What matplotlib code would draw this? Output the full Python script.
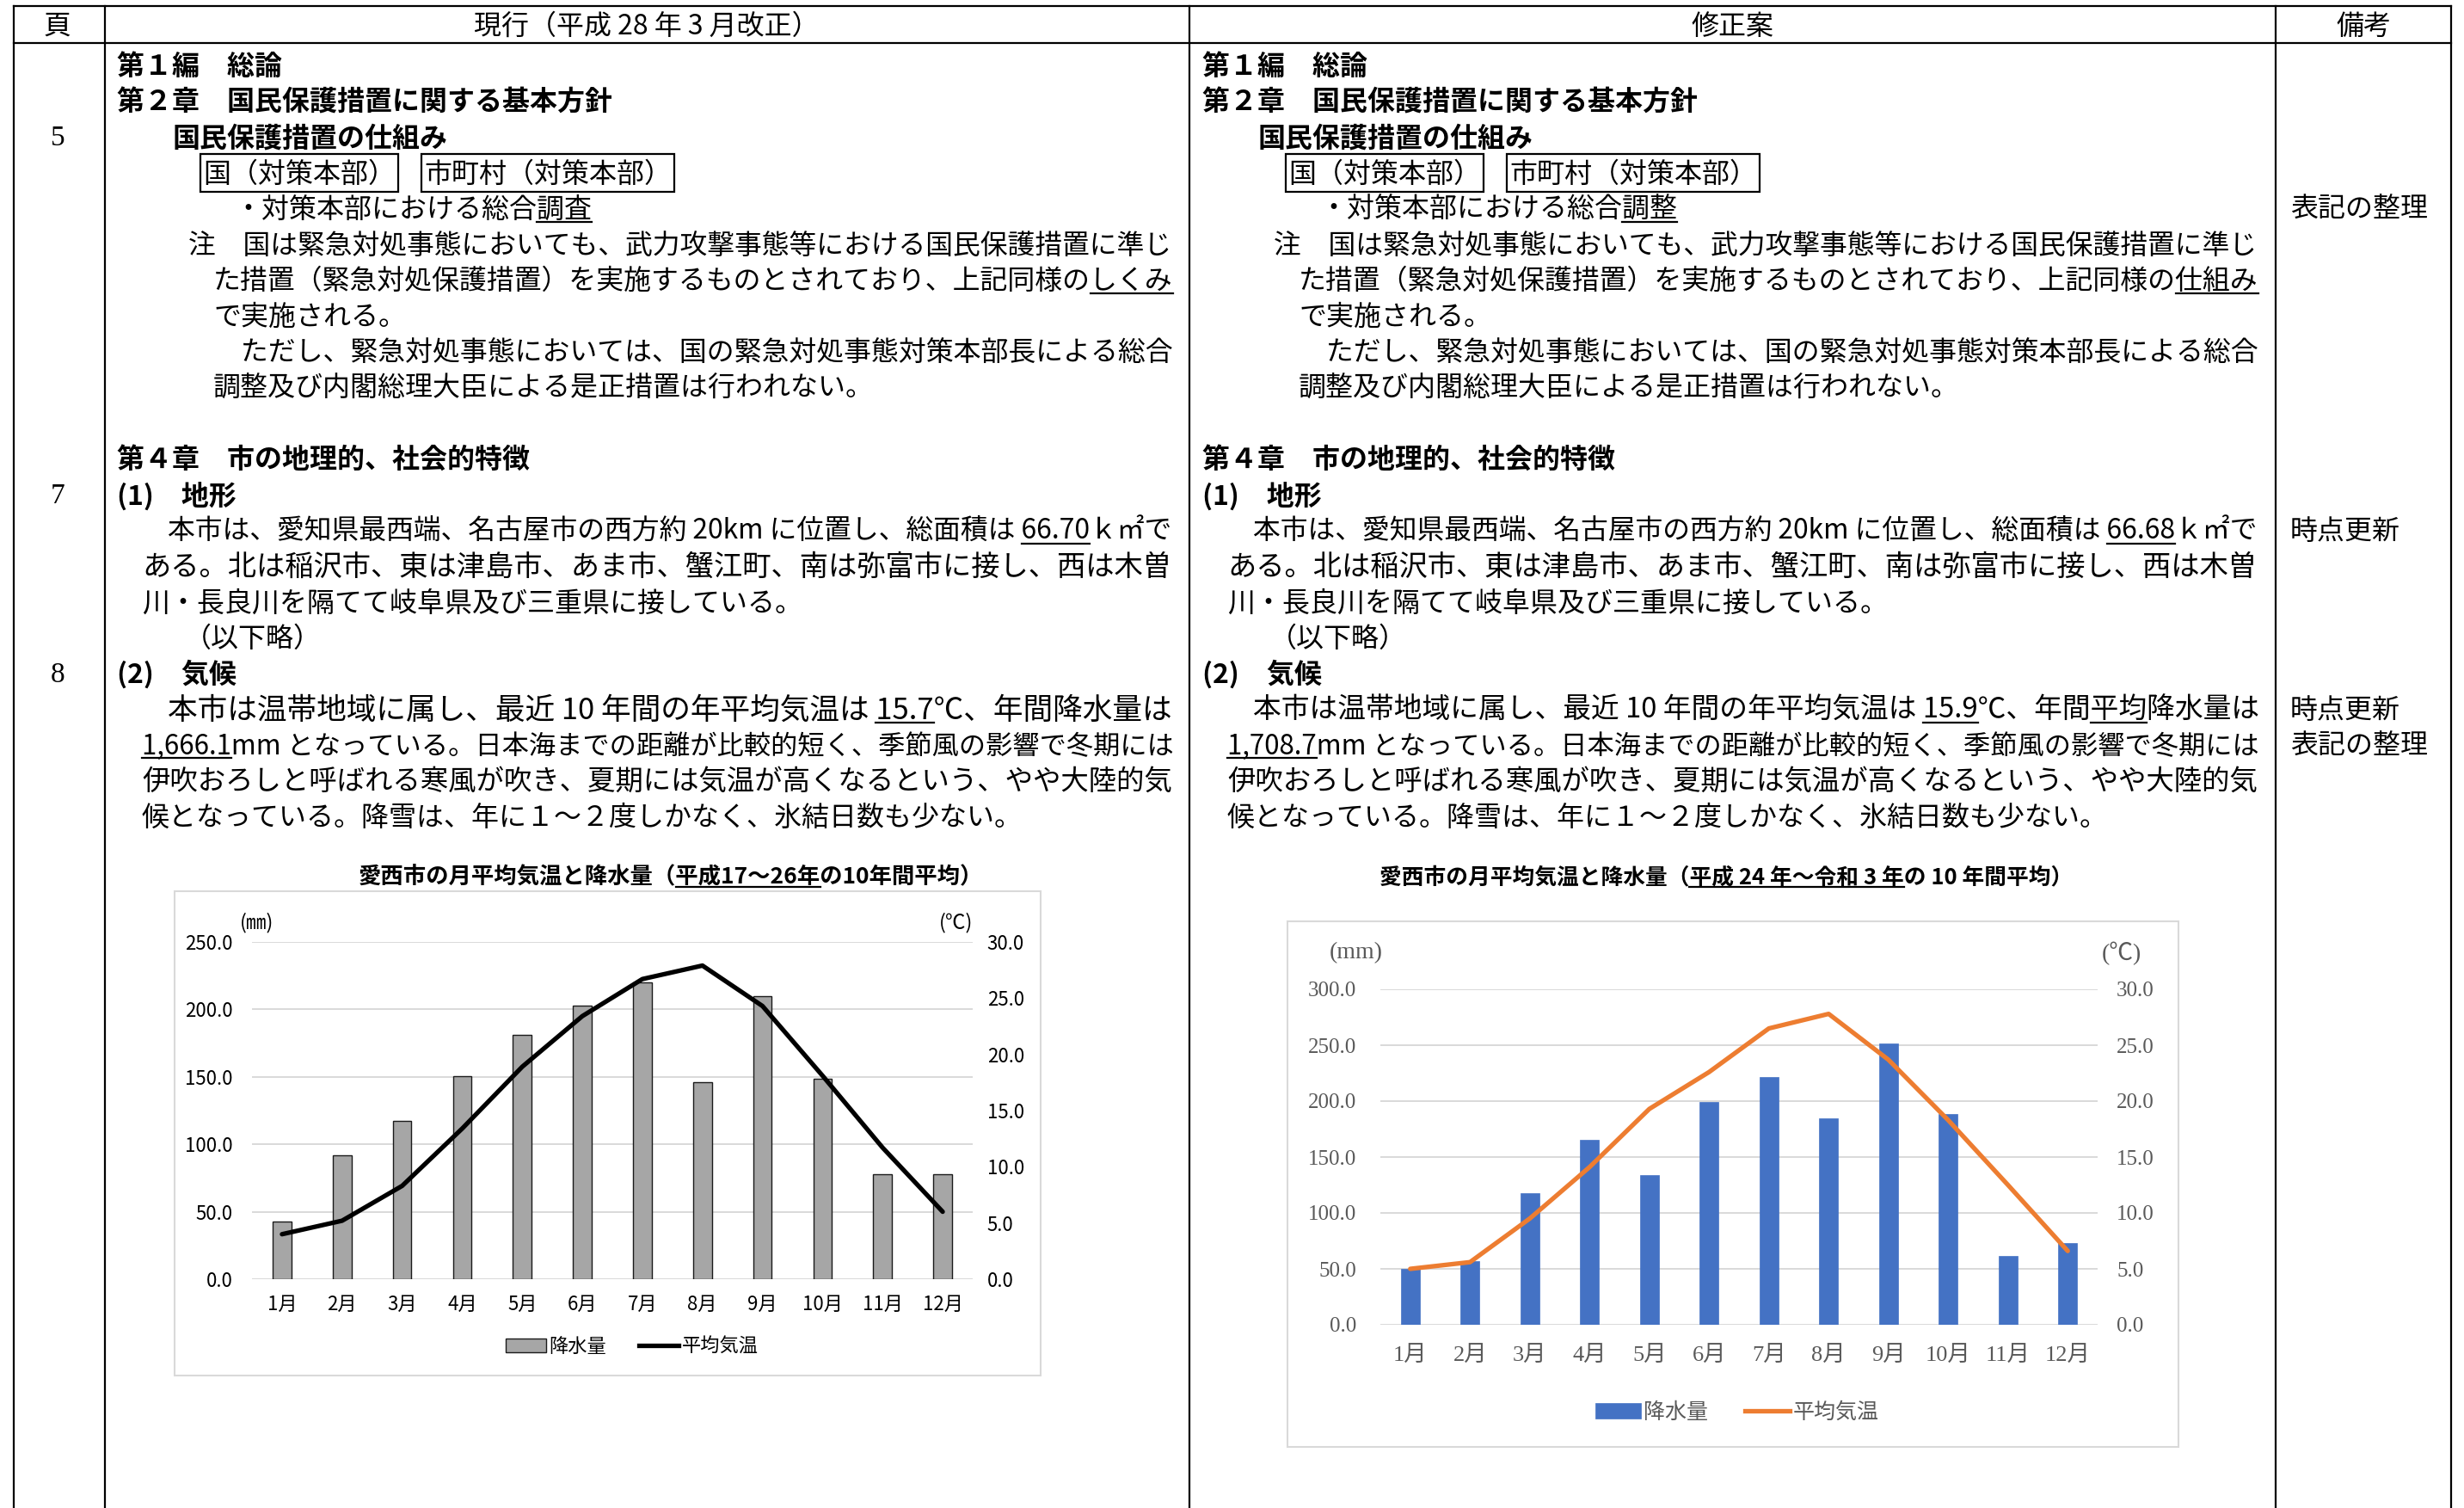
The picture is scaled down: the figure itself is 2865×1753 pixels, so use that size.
import matplotlib
matplotlib.use("Agg")
import numpy as np
import matplotlib.pyplot as plt
from matplotlib.patches import Rectangle, Patch
from matplotlib.lines import Line2D

W, H = 2865, 1753
JP = ['Noto Sans CJK JP', 'DejaVu Sans']
SERIF = ['Liberation Serif', 'Noto Sans CJK JP', 'DejaVu Sans']
plt.rcParams['font.family'] = JP

# chart data
months = ['1月', '2月', '3月', '4月', '5月', '6月', '7月', '8月', '9月', '10月', '11月', '12月']
old_rain = [42.8, 91.9, 117.3, 150.6, 181.0, 202.9, 220.3, 146.0, 209.7, 148.5, 78.0, 77.5]
old_temp = [4.0, 5.2, 8.3, 13.4, 18.9, 23.4, 26.7, 27.9, 24.3, 18.1, 11.7, 6.0]
new_rain = [50.2, 56.9, 117.7, 165.4, 133.6, 199.3, 221.6, 184.5, 251.9, 188.7, 61.5, 72.8]
new_temp = [5.0, 5.6, 9.5, 14.1, 19.3, 22.6, 26.5, 27.8, 23.7, 18.3, 12.5, 6.6]
old_title = [('愛西市の月平均気温と降水量（', 0), ('平成17～26年', 1), ('の10年間平均）', 0)]
new_title = [('愛西市の月平均気温と降水量（', 0), ('平成 24 年～令和 3 年', 1), ('の 10 年間平均）', 0)]

# table text: (x, line no, style, justify, segments)  segment = (text, underline)
old_lines = [
    (136, 0, 'h', False, [('第１編　総論', 0)]),
    (136, 1, 'h', False, [('第２章　国民保護措置に関する基本方針', 0)]),
    (201, 2, 'h', False, [('国民保護措置の仕組み', 0)]),
    (272, 4, 'n', False, [('・対策本部における総合', 0), ('調査', 1)]),
    (219, 5, 'n', True, [('注　国は緊急対処事態においても、武力攻撃事態等における国民保護措置に準じ', 0)]),
    (248, 6, 'n', True, [('た措置（緊急対処保護措置）を実施するものとされており、上記同様の', 0), ('しくみ', 1)]),
    (248, 7, 'n', False, [('で実施される。', 0)]),
    (248, 8, 'n', True, [('　ただし、緊急対処事態においては、国の緊急対処事態対策本部長による総合', 0)]),
    (248, 9, 'n', False, [('調整及び内閣総理大臣による是正措置は行われない。', 0)]),
    (136, 11, 'h', False, [('第４章　市の地理的、社会的特徴', 0)]),
    (136, 12, 'h', False, [('(1)　地形', 0)]),
    (195, 13, 'n', True, [('本市は、愛知県最西端、名古屋市の西方約 20km に位置し、総面積は ', 0), ('66.70', 1), ('ｋ㎡で', 0)]),
    (165, 14, 'n', True, [('ある。北は稲沢市、東は津島市、あま市、蟹江町、南は弥富市に接し、西は木曽', 0)]),
    (165, 15, 'n', False, [('川・長良川を隔てて岐阜県及び三重県に接している。', 0)]),
    (214, 16, 'n', False, [('（以下略）', 0)]),
    (136, 17, 'h', False, [('(2)　気候', 0)]),
    (195, 18, 'n', True, [('本市は温帯地域に属し、最近 10 年間の年平均気温は ', 0), ('15.7', 1), ('℃、年間降水量は', 0)]),
    (165, 19, 'n', True, [('1,666.1', 1), ('mm となっている。日本海までの距離が比較的短く、季節風の影響で冬期には', 0)]),
    (165, 20, 'n', True, [('伊吹おろしと呼ばれる寒風が吹き、夏期には気温が高くなるという、やや大陸的気', 0)]),
    (165, 21, 'n', False, [('候となっている。降雪は、年に１～２度しかなく、氷結日数も少ない。', 0)]),
]
new_lines = [
    (136, 0, 'h', False, [('第１編　総論', 0)]),
    (136, 1, 'h', False, [('第２章　国民保護措置に関する基本方針', 0)]),
    (201, 2, 'h', False, [('国民保護措置の仕組み', 0)]),
    (272, 4, 'n', False, [('・対策本部における総合', 0), ('調整', 1)]),
    (219, 5, 'n', True, [('注　国は緊急対処事態においても、武力攻撃事態等における国民保護措置に準じ', 0)]),
    (248, 6, 'n', True, [('た措置（緊急対処保護措置）を実施するものとされており、上記同様の', 0), ('仕組み', 1)]),
    (248, 7, 'n', False, [('で実施される。', 0)]),
    (248, 8, 'n', True, [('　ただし、緊急対処事態においては、国の緊急対処事態対策本部長による総合', 0)]),
    (248, 9, 'n', False, [('調整及び内閣総理大臣による是正措置は行われない。', 0)]),
    (136, 11, 'h', False, [('第４章　市の地理的、社会的特徴', 0)]),
    (136, 12, 'h', False, [('(1)　地形', 0)]),
    (195, 13, 'n', True, [('本市は、愛知県最西端、名古屋市の西方約 20km に位置し、総面積は ', 0), ('66.68', 1), ('ｋ㎡で', 0)]),
    (165, 14, 'n', True, [('ある。北は稲沢市、東は津島市、あま市、蟹江町、南は弥富市に接し、西は木曽', 0)]),
    (165, 15, 'n', False, [('川・長良川を隔てて岐阜県及び三重県に接している。', 0)]),
    (214, 16, 'n', False, [('（以下略）', 0)]),
    (136, 17, 'h', False, [('(2)　気候', 0)]),
    (195, 18, 'n', True, [('本市は温帯地域に属し、最近 10 年間の年平均気温は ', 0), ('15.9', 1),
                          ('℃、年間', 0), ('平均', 1), ('降水量は', 0)]),
    (165, 19, 'n', True, [('1,708.7', 1), ('mm となっている。日本海までの距離が比較的短く、季節風の影響で冬期には', 0)]),
    (165, 20, 'n', True, [('伊吹おろしと呼ばれる寒風が吹き、夏期には気温が高くなるという、やや大陸的気', 0)]),
    (165, 21, 'n', False, [('候となっている。降雪は、年に１～２度しかなく、氷結日数も少ない。', 0)]),
]
remarks = [(4, '表記の整理'), (13, '時点更新'), (18, '時点更新'), (19, '表記の整理')]
pages = [(2, '5'), (12, '7'), (17, '8')]
headers = [(67, '頁'), (752, '現行（平成 28 年 3 月改正）'), (2014, '修正案'), (2748, '備考')]

DX = 1262          # shift of the 修正案 column
BODY = 23
def line_y(i):
    return 78 + 41.55 * i

fig = plt.figure(figsize=(W / 100, H / 100), dpi=100)
bg = fig.add_axes([0, 0, 1, 1])
bg.set_xlim(0, W)
bg.set_ylim(H, 0)
bg.axis('off')
renderer = fig.canvas.get_renderer()


def text_w(s, size, weight='normal', family=JP):
    t = bg.text(0, 0, 'I' + s + 'I', fontsize=size, fontweight=weight, family=family)
    w1 = t.get_window_extent(renderer).width
    t.set_text('II')
    w2 = t.get_window_extent(renderer).width
    t.remove()
    return w1 - w2


def seg_text(x, y, segs, size, weight='normal', family=JP, right=None, center=False, color='black'):
    full = ''.join(s for s, u in segs)
    if right is not None:
        nat = text_w(full, size, weight, family)
        size = size * min(1.1, max(0.88, (right - x) / nat))
    if center:
        x = x - text_w(full, size, weight, family) / 2
    bg.text(x, y, full, fontsize=size, fontweight=weight, family=family,
            ha='left', va='center', color=color)
    pre = ''
    px = size * 100 / 72
    for s, u in segs:
        if u:
            x0 = x + text_w(pre, size, weight, family) if pre else x
            x1 = x + text_w(pre + s, size, weight, family)
            bg.plot([x0, x1], [y + 0.42 * px, y + 0.42 * px], color=color, lw=1.6)
        pre += s


# table frame
for xv in [16, 122, 1383, 2646, 2850]:
    bg.plot([xv, xv], [7, H], color='black', lw=1.6)
for yv in [7, 50]:
    bg.plot([16, 2850], [yv, yv], color='black', lw=1.6)

for xc, s in headers:
    bg.text(xc, 31, s, fontsize=BODY, ha='center', va='center')
for i, s in pages:
    bg.text(67, line_y(i), s, fontsize=BODY + 1, ha='center', va='center', family=SERIF)
for i, s in remarks:
    bg.text(2663, line_y(i), s, fontsize=BODY, ha='left', va='center')

for dx, lines in [(0, old_lines), (DX, new_lines)]:
    for x, i, st, just, segs in lines:
        seg_text(x + dx, line_y(i), segs, BODY, 'bold' if st == 'h' else 'normal',
                 right=(1366 + dx) if just else None)
    # boxed items
    y3 = line_y(3)
    for bx, s in [(236, '国（対策本部）'), (493, '市町村（対策本部）')]:
        w = text_w(s, BODY)
        bg.text(bx + dx, y3, s, fontsize=BODY, ha='left', va='center')
        bg.add_patch(Rectangle((bx + dx - 3, y3 - 24), w + 6, 44, fill=False, ec='black', lw=1.6))


def climate_chart(box, title, title_xy, title_size, title_weight, rain, temp, rmax,
                  bar_kw, line_color, tick_family, tick_size, tick_color, month_size,
                  bar_w, units, unit_size, leg_xy, leg_size, pads):
    x0, y0, x1, y1 = box
    ax = fig.add_axes([x0 / W, 1 - y1 / H, (x1 - x0) / W, (y1 - y0) / H])
    x = np.arange(len(months))
    ax.bar(x, rain, bar_w, zorder=3, **bar_kw)
    ax.set_xlim(-0.5, len(months) - 0.5)
    ax.set_ylim(0, rmax)
    rt = np.arange(0, rmax + 1, 50)
    ax.set_yticks(rt)
    ax.set_yticklabels([f'{v:.1f}' for v in rt], family=tick_family, fontsize=tick_size, color=tick_color)
    ax.set_xticks(x)
    ax.set_xticklabels(months, family=tick_family, fontsize=month_size, color=tick_color)
    ax.grid(axis='y', color='#d9d9d9', lw=1.4)
    ax.set_axisbelow(True)
    ax.patch.set_alpha(0)
    ax.tick_params(axis='both', length=0)
    ax.tick_params(axis='y', pad=pads[0])
    ax.tick_params(axis='x', pad=pads[2])
    ax2 = ax.twinx()
    ax2.plot(x, temp, color=line_color, lw=3.8, solid_joinstyle='round', solid_capstyle='round', zorder=4)
    ax2.set_ylim(0, 30)
    tt = np.arange(0, 31, 5)
    ax2.set_yticks(tt)
    ax2.set_yticklabels([f'{v:.1f}' for v in tt], family=tick_family, fontsize=tick_size, color=tick_color)
    ax2.tick_params(axis='y', length=0, pad=pads[1])
    for a in (ax, ax2):
        for sp in a.spines.values():
            sp.set_visible(False)
    for (ux, uy), s in zip(units[0], units[1]):
        bg.text(ux, uy, s, fontsize=unit_size, family=tick_family, ha='center', va='center', color=tick_color)
    seg_text(title_xy[0], title_xy[1], title, title_size, title_weight, center=True)
    h1 = Patch(**bar_kw)
    h2 = Line2D([], [], color=line_color, lw=3.8)
    leg = fig.legend([h1, h2], ['降水量', '平均気温'], loc='center',
                     bbox_to_anchor=(leg_xy[0] / W, 1 - leg_xy[1] / H), ncol=2, frameon=False,
                     fontsize=leg_size, handlelength=2.1, handleheight=0.75,
                     handletextpad=0.15, columnspacing=1.7)
    for t in leg.get_texts():
        t.set_color(tick_color)


# 現行 chart
bg.add_patch(Rectangle((203, 1036), 1007, 563, fill=False, ec='#d9d9d9', lw=1.5))
climate_chart((293, 1095, 1131, 1487), old_title, (780, 1020), 19, 'bold',
              old_rain, old_temp, 250,
              dict(facecolor='#a6a6a6', edgecolor='#1a1a1a', linewidth=1.0), 'black',
              JP, 16, 'black', 16, 0.31,
              ([(299, 1073), (1112, 1073)], ['(㎜)', '(℃)']), 17,
              (735, 1565), 16, (16, 12, 13))

# 修正案 chart
bg.add_patch(Rectangle((1497, 1071), 1036, 611, fill=False, ec='#d9d9d9', lw=1.5))
climate_chart((1605, 1150, 2439, 1540), new_title, (2007, 1020), 18.5, 'bold',
              new_rain, new_temp, 300,
              dict(facecolor='#4472c4', edgecolor='#4472c4', linewidth=0.5), '#ed7d31',
              SERIF, 18, '#595959', 19, 0.32,
              ([(1577, 1108), (2467, 1108)], ['(mm)', '(℃)']), 20,
              (2020, 1642), 18, (20, 16, 18))

fig.savefig('out.png', dpi=100)
